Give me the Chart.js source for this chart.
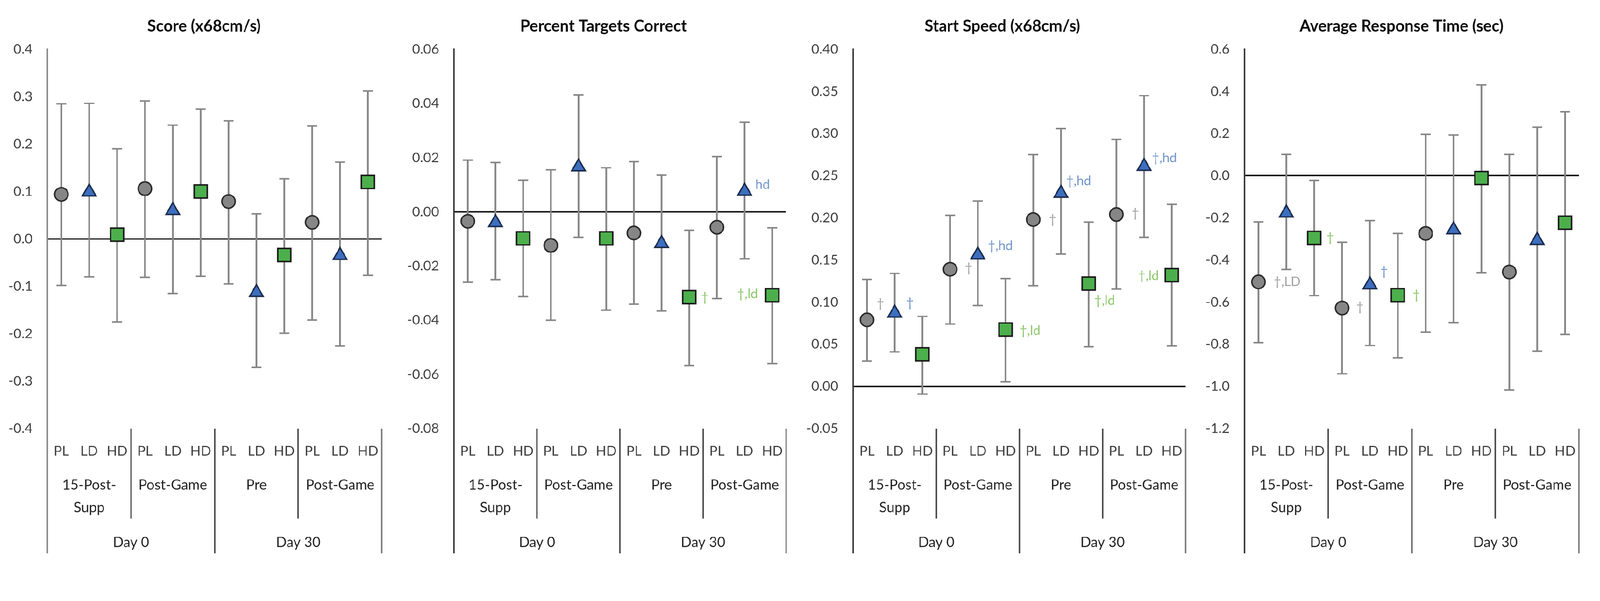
<!doctype html>
<html lang="en">
  <head>
    <meta charset="utf-8">
    <title>Score, targets, start speed and response time</title>
    <script src="https://cdn.jsdelivr.net/npm/chart.js@4.4.1/dist/chart.umd.min.js"></script>
    <style>
      html, body { margin: 0; padding: 0; background: #fff; overflow: hidden; }
      #sheet { width: 4321px; height: 1538px; position: absolute; left: 0; top: 0; transform-origin: 0 0; }
      canvas.panel { position: absolute; top: 0; }
    </style>
  </head>
  <body>

    <div id="sheet">
      <canvas id="score" class="panel"></canvas>
      <canvas id="targets" class="panel"></canvas>
      <canvas id="speed" class="panel"></canvas>
      <canvas id="response" class="panel"></canvas>
    </div>

    <script>
    // ---- data ----
    var categories = ['PL', 'LD', 'HD', 'PL', 'LD', 'HD', 'PL', 'LD', 'HD', 'PL', 'LD', 'HD'];
    var groupNames = [['15-Post-', 'Supp'], ['Post-Game'], ['Pre'], ['Post-Game']];
    var dayNames = ['Day 0', 'Day 30'];

    var scoreMean = [0.094, 0.099, 0.009, 0.106, 0.060, 0.100, 0.079, -0.113, -0.034, 0.035, -0.035, 0.120];
    var scoreHigh = [0.285, 0.286, 0.190, 0.291, 0.240, 0.274, 0.249, 0.053, 0.127, 0.238, 0.162, 0.312];
    var scoreLow  = [-0.098, -0.080, -0.175, -0.081, -0.115, -0.079, -0.095, -0.271, -0.199, -0.171, -0.226, -0.077];
    var scoreNotes = ['', '', '', '', '', '', '', '', '', '', '', ''];

    var pctMean = [-0.0035, -0.0040, -0.0098, -0.0124, 0.0166, -0.0098, -0.0078, -0.0117, -0.0315, -0.0057, 0.0076, -0.0308];
    var pctHigh = [0.0191, 0.0182, 0.0117, 0.0155, 0.0432, 0.0163, 0.0185, 0.0135, -0.0068, 0.0204, 0.0331, -0.0059];
    var pctLow  = [-0.0260, -0.0250, -0.0313, -0.0400, -0.0094, -0.0363, -0.0341, -0.0366, -0.0567, -0.0320, -0.0173, -0.0560];
    var pctNotes = ['', '', '', '', '', '', '', '', '†', '', 'hd', '†,ld'];

    var speedMean = [0.079, 0.087, 0.038, 0.139, 0.156, 0.0675, 0.198, 0.229, 0.122, 0.204, 0.261, 0.132];
    var speedHigh = [0.127, 0.134, 0.083, 0.203, 0.220, 0.128, 0.275, 0.306, 0.195, 0.293, 0.345, 0.216];
    var speedLow  = [0.030, 0.041, -0.009, 0.074, 0.096, 0.0054, 0.1195, 0.157, 0.047, 0.1155, 0.177, 0.048];
    var speedNotes = ['†', '†', '', '†', '†,hd', '†,ld', '†', '†,hd', '†,ld', '†', '†,hd', '†,ld'];

    var rtMean = [-0.504, -0.177, -0.295, -0.628, -0.518, -0.567, -0.274, -0.257, -0.011, -0.457, -0.307, -0.223];
    var rtHigh = [-0.219, 0.101, -0.022, -0.316, -0.213, -0.274, 0.196, 0.193, 0.431, 0.101, 0.230, 0.303];
    var rtLow  = [-0.792, -0.445, -0.569, -0.940, -0.806, -0.864, -0.743, -0.697, -0.460, -1.017, -0.832, -0.753];
    var rtNotes = ['†,LD', '', '†', '†', '†', '†', '', '', '', '', '', ''];

    // ---- look ----
    var AXIS_W = 125, PAD_R = 8, W = 4321, H = 1538;
    var barGray = '#858585';
    var markers = {
      PL: { style: 'circle',   radius: 18, fill: '#868686', line: '#2b2b2b', note: '#a3a3a3' },
      LD: { style: 'triangle', radius: 21, fill: '#3d6fbf', line: '#1c2d4f', note: '#7195cc' },
      HD: { style: 'rect',     radius: 25, fill: '#4caf4c', line: '#1a1a1a', note: '#8cc66a' }
    };

    // the window may be smaller than the sheet: fit it
    var fit = Math.min(window.innerWidth / W, window.innerHeight / H);
    document.getElementById('sheet').style.transform = 'scale(' + fit + ')';

    Chart.defaults.font.family = 'Lato';

    function decor(p) {
      return {
        id: 'decor',
        afterDraw: function (chart) {
          var ctx = chart.ctx, x = chart.scales.x, y = chart.scales.y, area = chart.chartArea;
          var step = x.getPixelForValue(1) - x.getPixelForValue(0);
          var edge = function (k) { return x.getPixelForValue(0) - step / 2 + k * step; };
          var b = area.bottom;
          ctx.save();

          ctx.fillStyle = '#0d0d0d';
          ctx.font = 'bold 43px Lato';
          ctx.textAlign = 'center';
          ctx.textBaseline = 'middle';
          ctx.fillText(p.title, p.titleX - (p.axisX - AXIS_W), 71);

          // category dividers under the plot
          ctx.lineWidth = 4;
          [0, 3, 6, 9, 12].forEach(function (k) {
            var xx = Math.round(edge(k));
            ctx.strokeStyle = k === 0 ? p.axisColor : (k === 12 ? '#7f7f7f' : '#4d4d4d');
            ctx.beginPath();
            ctx.moveTo(xx, k === 0 ? b - 2 : b);
            ctx.lineTo(xx, b + (k % 6 === 0 ? 337 : 243));
            ctx.stroke();
          });

          ctx.fillStyle = '#262626';
          ctx.font = '38px Lato';
          groupNames.forEach(function (lines, g) {
            var cx = x.getPixelForValue(g * 3 + 1);
            lines.forEach(function (t, j) { ctx.fillText(t, cx, b + 153 + j * 61); });
          });
          dayNames.forEach(function (t, d) {
            ctx.fillText(t, edge(d * 6 + 3), b + 308);
          });

          // significance notes next to the markers
          ctx.font = '35px Lato';
          p.notes.forEach(function (t, i) {
            if (!t) return;
            var spot = p.spots[i] || [32, 0, 'left'];
            ctx.fillStyle = markers[categories[i]].note;
            ctx.textAlign = spot[2] || 'left';
            ctx.fillText(t, x.getPixelForValue(i) + spot[0], y.getPixelForValue(p.mean[i]) + spot[1]);
          });
          ctx.restore();
        }
      };
    }

    function makePanel(id, p) {
      var canvas = document.getElementById(id);
      var left = p.axisX - AXIS_W;
      var width = AXIS_W + p.areaW + PAD_R;
      canvas.width = width;
      canvas.height = H;
      canvas.style.left = left + 'px';
      canvas.style.width = width + 'px';
      canvas.style.height = H + 'px';

      new Chart(canvas, {
        type: 'bar',
        data: {
          labels: categories,
          datasets: [
            {
              type: 'line', data: p.mean, showLine: false, order: 1,
              pointStyle: categories.map(function (c) { return markers[c].style; }),
              pointRadius: categories.map(function (c) { return markers[c].radius; }),
              pointBackgroundColor: categories.map(function (c) { return markers[c].fill; }),
              pointBorderColor: categories.map(function (c) { return markers[c].line; }),
              pointBorderWidth: 4
            },
            {
              type: 'line', data: p.high, showLine: false, order: 2,
              pointStyle: 'line', pointRadius: 13.5, pointBorderColor: barGray, pointBorderWidth: 4
            },
            {
              type: 'line', data: p.low, showLine: false, order: 2,
              pointStyle: 'line', pointRadius: 13.5, pointBorderColor: barGray, pointBorderWidth: 4
            },
            {
              type: 'bar', order: 3,
              data: p.low.map(function (v, i) { return [v, p.high[i]]; }),
              backgroundColor: barGray, borderWidth: 0, barThickness: 4
            }
          ]
        },
        options: {
          responsive: false,
          animation: false,
          devicePixelRatio: 1,
          layout: { padding: { top: 133, right: PAD_R, bottom: 0, left: 0 } },
          plugins: { legend: { display: false }, tooltip: { enabled: false }, title: { display: false } },
          scales: {
            x: {
              offset: true,
              grid: { display: false, drawTicks: false },
              border: { display: false },
              ticks: { color: '#404040', font: { size: 37 }, padding: 39, autoSkip: false, maxRotation: 0 },
              afterFit: function (s) { s.height = 381; }
            },
            y: {
              min: p.min, max: p.max,
              border: { display: true, color: p.axisColor, width: 4 },
              grid: {
                drawTicks: false, lineWidth: 4,
                color: function (c) { return c.tick && c.tick.value === 0 ? '#1a1a1a' : 'rgba(0,0,0,0)'; }
              },
              ticks: {
                stepSize: p.step, color: '#404040', font: { size: 37 }, padding: 40,
                callback: function (v) { return Number(v).toFixed(p.dec); }
              },
              afterFit: function (s) { s.width = AXIS_W; }
            }
          }
        },
        plugins: [decor(p)]
      });
    }

    document.fonts.load('bold 43px Lato').then(function () { return document.fonts.load('37px Lato'); }).then(function () {
      makePanel('score', {
        title: 'Score (x68cm/s)', axisX: 128, areaW: 926, titleX: 551, axisColor: '#8c8c8c',
        min: -0.4, max: 0.4, step: 0.1, dec: 1,
        mean: scoreMean, high: scoreHigh, low: scoreLow, notes: scoreNotes, spots: {}
      });
      makePanel('targets', {
        title: 'Percent Targets Correct', axisX: 1226, areaW: 920, titleX: 1630, axisColor: '#3a3a3a',
        min: -0.08, max: 0.06, step: 0.02, dec: 2,
        mean: pctMean, high: pctHigh, low: pctLow, notes: pctNotes,
        spots: { 8: [32, 0], 10: [29, -18], 11: [-39, -3, 'right'] }
      });
      makePanel('speed', {
        title: 'Start Speed (x68cm/s)', axisX: 2304, areaW: 921, titleX: 2707, axisColor: '#3a3a3a',
        min: -0.05, max: 0.40, step: 0.05, dec: 2,
        mean: speedMean, high: speedHigh, low: speedLow, notes: speedNotes,
        spots: { 0: [26, -44], 1: [31, -28], 3: [40, -3], 4: [27, -25], 5: [38, 3], 6: [42, 0],
                 7: [14, -33], 8: [15, 46], 9: [41, -3], 10: [21, -23], 11: [-35, 2, 'right'] }
      });
      makePanel('response', {
        title: 'Average Response Time (sec)', axisX: 3361, areaW: 926, titleX: 3785, axisColor: '#3a3a3a',
        min: -1.2, max: 0.6, step: 0.2, dec: 1,
        mean: rtMean, high: rtHigh, low: rtLow, notes: rtNotes,
        spots: { 0: [41, 0], 2: [33, 0], 3: [38, -3], 4: [28, -36], 5: [40, 0] }
      });
    });
    </script>
  </body>
</html>
